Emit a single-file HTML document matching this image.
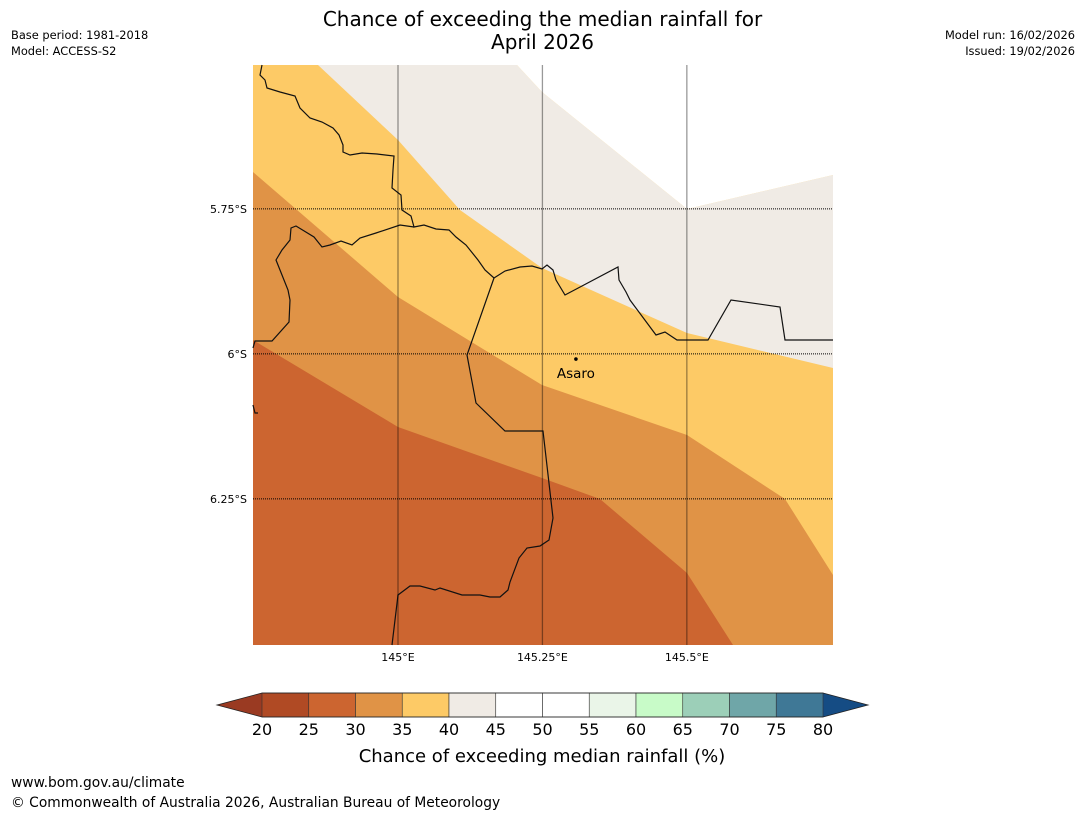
<!DOCTYPE html>
<html><head><meta charset="utf-8"><style>
body{margin:0;background:#fff;width:1085px;height:816px;overflow:hidden;font-family:"DejaVu Sans","Liberation Sans",sans-serif;}
.t{position:absolute;white-space:nowrap;color:#000}
</style></head><body>
<div class="t" style="left:0;width:1085px;top:8px;text-align:center;font-size:20px;line-height:23px">Chance of exceeding the median rainfall for<br>April 2026</div>
<div class="t" style="left:11px;top:27px;font-size:11.4px;line-height:16px">Base period: 1981-2018<br>Model: ACCESS-S2</div>
<div class="t" style="right:10px;top:27px;font-size:11.4px;line-height:16px;text-align:right">Model run: 16/02/2026<br>Issued: 19/02/2026</div>
<div class="t" style="left:11px;top:775px;font-size:13.8px">www.bom.gov.au/climate</div>
<div class="t" style="left:11px;top:795px;font-size:13.8px">© Commonwealth of Australia 2026, Australian Bureau of Meteorology</div>
<svg id="svg" width="1085" height="816" style="position:absolute;left:0;top:0"></svg>
<script>
const lonTicks=[145,145.25,145.5];
const lonLabels=["145°E","145.25°E","145.5°E"];
const latTicks=[5.75,6,6.25];
const latLabels=["5.75°S","6°S","6.25°S"];
const cbBounds=[20,25,30,35,40,45,50,55,60,65,70,75,80];
const cbColors=["#b04a24","#cc6530","#e09346","#fdca66","#f0ebe5","#ffffff","#ffffff","#eaf5e8","#c8fbc8","#9ccfb8","#6fa6a8","#3f7896"];
const town={name:"Asaro",lon:145.308,lat:6.009};
const NS="http://www.w3.org/2000/svg";
const svg=document.getElementById('svg');
const X0=253,X1=833,Y0=65,Y1=645;
const lonMin=144.749,lonMax=145.753,latMin=5.502,latMax=6.502;
const xs=l=>X0+(l-lonMin)/(lonMax-lonMin)*(X1-X0);
const ys=l=>Y0+(l-latMin)/(latMax-latMin)*(Y1-Y0);
function el(t,a){const e=document.createElementNS(NS,t);for(const k in a)e.setAttribute(k,a[k]);svg.appendChild(e);return e;}
const regions=[
 {name:"region-25-30",c:"#cc6530",p:[[253,65],[833,65],[833,645],[253,645]]},
 {name:"region-30-35",c:"#e09346",p:[[253,65],[833,65],[833,645],[733,645],[687,573],[600,499],[542,478],[398,427],[253,340]]},
 {name:"region-35-40",c:"#fdca66",p:[[253,65],[833,65],[833,575],[785,499],[687,435],[542,385],[398,297],[253,172]]},
 {name:"region-40-45",c:"#f0ebe5",p:[[318,65],[517,65],[542,92],[687,209],[833,175],[833,368],[687,333],[542,268],[460,210],[398,140]]},
 {name:"region-45-50",c:"#ffffff",p:[[517,65],[833,65],[833,175],[687,209],[542,92]]}
];
for(const r of regions){const e=el('polygon',{points:r.p.map(q=>q.join(',')).join(' '),fill:r.c});

}
const borders=[
 [[262,65],[260,75],[265,80],[267,88],[280,92],[295,96],[300,108],[310,118],[322,122],[333,128],[339,135],[343,145],[343,152],[350,155],[362,153],[377,154],[394,156],[393,170],[392,188],[401,195],[402,210],[411,216],[414,227],[424,225],[436,229],[449,230],[456,237],[466,245],[478,260],[485,270],[494,278],[505,271],[520,267],[532,266],[542,269],[547,265],[553,270],[556,280],[565,295],[618,267],[619,280],[626,292],[630,300],[656,335],[665,332],[677,340],[708,340],[731,300],[780,307],[785,340],[833,340]],
 [[253,348],[255,341],[272,341],[289,322],[290,300],[288,290],[278,265],[276,260],[282,250],[290,240],[291,228],[296,226],[314,237],[322,247],[330,245],[341,241],[352,245],[360,238],[376,233],[400,225],[414,227]],
 [[494,278],[467,355],[476,403],[505,431],[543,431],[553,518],[549,540],[540,546],[527,548],[519,558],[510,582],[508,590],[500,597],[490,597],[480,595],[462,595],[440,588],[435,590],[420,586],[410,586],[398,595],[392,645]],
 [[253,405],[255,413],[258,413]]
];
borders.forEach((b,i)=>{const e=el('polyline',{points:b.map(q=>q.join(',')).join(' '),fill:'none',stroke:'#111','stroke-width':1.2});

});
lonTicks.forEach((l,i)=>{const x=xs(l);
const g=el('line',{x1:x,x2:x,y1:Y0,y2:Y1,stroke:'#000','stroke-opacity':0.4,'stroke-width':1.3});


const t=el('text',{x:x,y:661,'font-size':11,'text-anchor':'middle','font-family':'DejaVu Sans, Liberation Sans, sans-serif'});t.textContent=lonLabels[i];

});
latTicks.forEach((l,i)=>{const y=ys(l);
const g=el('line',{x1:X0,x2:X1,y1:y,y2:y,stroke:'#000','stroke-width':1,'stroke-dasharray':'1,1'});


const t=el('text',{x:247,y:y+4,'font-size':11,'text-anchor':'end','font-family':'DejaVu Sans, Liberation Sans, sans-serif'});t.textContent=latLabels[i];

});
const d=el('circle',{cx:xs(town.lon),cy:ys(town.lat),r:1.8,fill:'#000'});


const tl=el('text',{x:xs(town.lon),y:ys(town.lat)+19,'font-size':13.5,'text-anchor':'middle','font-family':'DejaVu Sans, Liberation Sans, sans-serif'});tl.textContent=town.name;


const CB0=262,CB1=823,CBy=693,CBh=24;
const cx=v=>CB0+(v-cbBounds[0])/(cbBounds[cbBounds.length-1]-cbBounds[0])*(CB1-CB0);
const lo=el('polygon',{points:`${CB0},${CBy} ${CB0},${CBy+CBh} 217,${CBy+CBh/2}`,fill:'#9a3a22'});


const hi=el('polygon',{points:`${CB1},${CBy} ${CB1},${CBy+CBh} 868,${CBy+CBh/2}`,fill:'#154c84'});


cbColors.forEach((c,i)=>{const r=el('rect',{x:cx(cbBounds[i]),y:CBy,width:cx(cbBounds[i+1])-cx(cbBounds[i]),height:CBh,fill:c,stroke:'#333','stroke-width':0.6});

});
const ol=el('polygon',{points:`217,${CBy+CBh/2} ${CB0},${CBy} ${CB1},${CBy} 868,${CBy+CBh/2} ${CB1},${CBy+CBh} ${CB0},${CBy+CBh}`,fill:'none',stroke:'#222','stroke-width':0.8});


cbBounds.forEach(v=>{const t=el('text',{x:cx(v),y:735,'font-size':16,'text-anchor':'middle','font-family':'DejaVu Sans, Liberation Sans, sans-serif'});t.textContent=v;

});
const ct=el('text',{x:542,y:762,'font-size':18,'text-anchor':'middle','font-family':'DejaVu Sans, Liberation Sans, sans-serif'});ct.textContent='Chance of exceeding median rainfall (%)';


</script>
</body></html>
